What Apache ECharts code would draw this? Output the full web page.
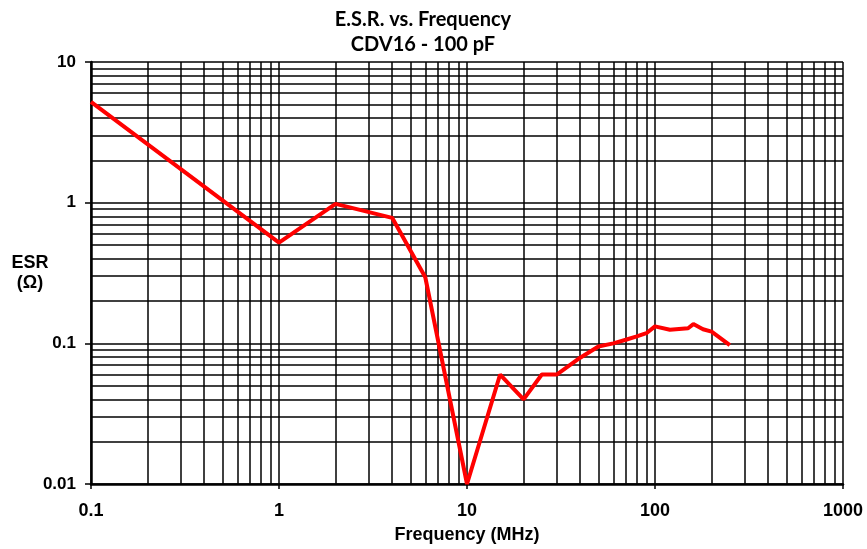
<!DOCTYPE html>
<html><head><meta charset="utf-8">
<script src="https://cdn.jsdelivr.net/npm/echarts@6/dist/echarts.min.js"></script>
<style>html,body{margin:0;padding:0;background:#fff}#c{width:867px;height:549px}</style>
</head><body><div id="c"></div>
<script>
var frequencyMHz = [0.1, 1, 2, 4, 6, 10, 15, 20, 25, 30, 40, 50, 60, 70, 80, 90, 100, 120, 150, 160, 180, 200, 250];
var esrOhm = [5.2, 0.52, 0.98, 0.78, 0.295, 0.01, 0.06, 0.040, 0.06, 0.06, 0.079, 0.095, 0.1, 0.106, 0.112, 0.118, 0.132, 0.125, 0.128, 0.137, 0.126, 0.121, 0.097];
var xDecades = [0.1, 1, 10, 100];
var yDecades = [0.01, 0.1, 1];
var minorSteps = [2, 3, 4, 5, 6, 7, 8, 9];

var chart = echarts.init(document.getElementById('c'));
var seriesData = frequencyMHz.map(function (f, i) { return [f, esrOhm[i]]; });
var gridLines = [];
xDecades.forEach(function (d) { minorSteps.forEach(function (m) { gridLines.push({ xAxis: +(d * m).toPrecision(3) }); }); });
yDecades.forEach(function (d) { minorSteps.forEach(function (m) { gridLines.push({ yAxis: +(d * m).toPrecision(3) }); }); });

function fmt(v) { return String(+v.toPrecision(3)); }
var ff = 'Liberation Sans, Arial, sans-serif';

chart.setOption({
  animation: false,
  backgroundColor: '#fff',
  title: {
    text: 'E.S.R. vs. Frequency\nCDV16 - 100 pF',
    left: 423, top: 7, textAlign: 'center', padding: 0,
    textStyle: { fontFamily: 'Lato, Open Sans, sans-serif', fontWeight: 'bold', fontSize: 20, lineHeight: 25, color: '#000' }
  },
  grid: { left: 91, right: 24, top: 62, bottom: 63, containLabel: false },
  xAxis: {
    type: 'log', logBase: 10, min: 0.1, max: 1000,
    name: 'Frequency (MHz)', nameLocation: 'middle', nameGap: 42, nameMoveOverlap: false,
    nameTextStyle: { fontFamily: ff, fontWeight: 'bold', fontSize: 18, color: '#000' },
    axisLine: { show: true, onZero: false, lineStyle: { color: '#000', width: 2.5 } },
    axisTick: { show: true, length: 5, lineStyle: { color: '#000', width: 1.5 } },
    axisLabel: { margin: 18, formatter: fmt, fontFamily: ff, fontWeight: 'bold', fontSize: 18, color: '#000' },
    splitLine: { show: true, lineStyle: { color: '#000', width: 1.5 } }
  },
  yAxis: {
    type: 'log', logBase: 10, min: 0.01, max: 10,
    name: 'ESR\n(Ω)', nameLocation: 'middle', nameRotate: 0, nameGap: 61, nameMoveOverlap: false,
    nameTextStyle: { fontFamily: ff, fontWeight: 'bold', fontSize: 18, lineHeight: 20, color: '#000', align: 'center', padding: [0, 0, 7, 0] },
    axisLine: { show: true, onZero: false, lineStyle: { color: '#000', width: 2.5 } },
    axisTick: { show: true, length: 6, lineStyle: { color: '#000', width: 1.5 } },
    axisLabel: { margin: 15, formatter: fmt, fontFamily: ff, fontWeight: 'bold', fontSize: 17, color: '#000' },
    splitLine: { show: true, lineStyle: { color: '#000', width: 1.5 } }
  },
  series: [
    {
      type: 'line', data: [], silent: true, z: 1,
      markLine: {
        silent: true, symbol: 'none', animation: false,
        label: { show: false },
        lineStyle: { color: '#000', width: 1.5, type: 'solid' },
        emphasis: { disabled: true },
        data: gridLines
      }
    },
    {
      type: 'line', data: seriesData, z: 5,
      showSymbol: false, symbol: 'none',
      lineStyle: { color: '#ff0000', width: 4 },
      itemStyle: { color: '#ff0000' }
    }
  ]
});
</script></body></html>
